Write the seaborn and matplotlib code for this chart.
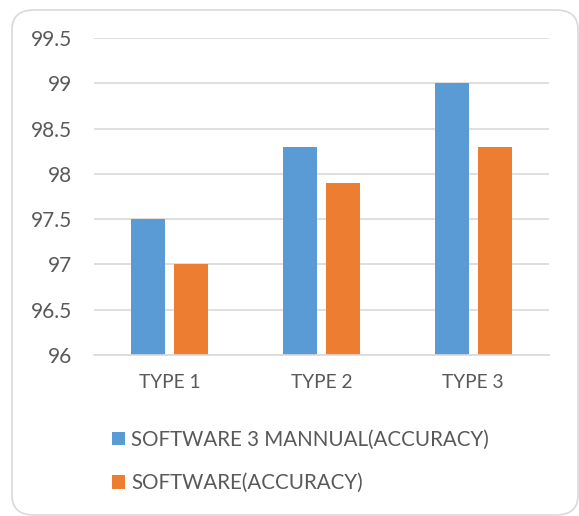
import pandas as pd
import matplotlib.pyplot as plt
import seaborn as sns
from matplotlib.patches import FancyBboxPatch

# 数据
types = ['TYPE 1', 'TYPE 2', 'TYPE 3']
manual_acc = [97.5, 98.3, 99.0]
software_acc = [97.0, 97.9, 98.3]
series_names = ['SOFTWARE 3 MANNUAL(ACCURACY)', 'SOFTWARE(ACCURACY)']
yticks = [96, 96.5, 97, 97.5, 98, 98.5, 99, 99.5]

df = pd.DataFrame({
    'type': types * 2,
    'value': manual_acc + software_acc,
    'series': [series_names[0]] * 3 + [series_names[1]] * 3,
})

sns.set_style('white')
plt.rcParams['font.family'] = ['Lato', 'DejaVu Sans']
text_c = '#595959'

fig = plt.figure(figsize=(5.79, 5.16), dpi=100)
ax = fig.add_axes([94 / 579, 1 - 355 / 516, 455 / 579, 317 / 516])

sns.barplot(data=df, x='type', y='value', hue='series',
            palette=['#5B9BD5', '#ED7D31'], width=0.567, gap=0.21,
            linewidth=0, saturation=1, ax=ax)

ax.set_ylim(96, 99.5)
ax.set_xlim(-0.5, 2.5)
ax.set_yticks(yticks)
ax.set_yticklabels([('%g' % v) for v in yticks])
ax.yaxis.grid(True, color='#D9D9D9', linewidth=1.2)
ax.set_axisbelow(True)
for s in ['top', 'right', 'left']:
    ax.spines[s].set_visible(False)
ax.spines['bottom'].set_color('#D9D9D9')
ax.spines['bottom'].set_linewidth(1.2)
ax.set_xlabel('')
ax.set_ylabel('')
ax.tick_params(axis='y', length=0, pad=16, labelsize=15, labelcolor=text_c)
ax.tick_params(axis='x', length=0, pad=14, labelsize=13.8, labelcolor=text_c)

h, l = ax.get_legend_handles_labels()
ax.legend(h, l, loc='upper left', bbox_to_anchor=(112 / 579, 1 - 430 / 516),
          bbox_transform=fig.transFigure, frameon=False, ncol=1,
          handlelength=0.63, handleheight=0.63, handletextpad=0.3,
          labelspacing=1.12, fontsize=14.8, labelcolor=text_c,
          borderaxespad=0, borderpad=0)

# 外边框
border = FancyBboxPatch((12 / 579, 1 - 515 / 516), 566 / 579, 505 / 516,
                        boxstyle='round,pad=0,rounding_size=0.038',
                        transform=fig.transFigure, facecolor='none',
                        edgecolor='#D9D9D9', linewidth=1.2, clip_on=False)
fig.patches.append(border)

plt.savefig('out.png', dpi=100)
